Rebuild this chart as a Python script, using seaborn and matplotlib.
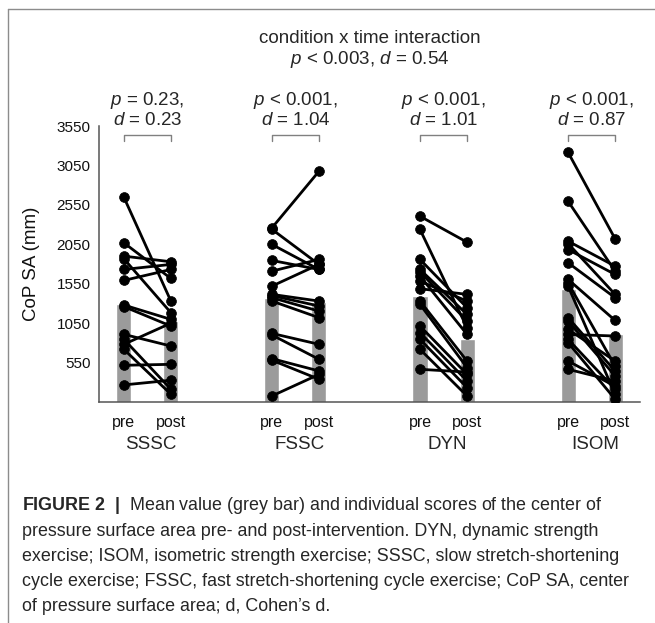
import pandas as pd
import numpy as np
from matplotlib import pyplot as plt
from matplotlib.lines import Line2D
import matplotlib.transforms as mtransforms
import seaborn as sns

# values (CoP SA in mm)
conditions = ['SSSC', 'FSSC', 'DYN', 'ISOM']
time_labels = ['pre', 'post']

sssc_pre = [2647, 2069, 1900, 1867, 1731, 1592, 1280, 1260, 908, 845, 782, 718, 516, 267]
sssc_post = [1330, 1617, 1829, 1183, 1795, 1731, 1098, 1013, 760, 212, 1050, 149, 528, 326]

fssc_pre = [2259, 2240, 2048, 1845, 1710, 1520, 1415, 1400, 1373, 1330, 920, 900, 600, 580, 127]
fssc_post = [2976, 1795, 1731, 1731, 1858, 1795, 1330, 1267, 1203, 1120, 782, 592, 444, 339, 400]

dyn_pre = [2406, 2238, 1858, 1731, 1700, 1647, 1583, 1487, 1330, 1288, 1013, 930, 845, 718, 465]
dyn_post = [2077, 993, 1246, 1161, 1077, 908, 1330, 1415, 570, 487, 402, 317, 233, 127, 430]

isom_pre = [3216, 2596, 2090, 2060, 1984, 1816, 1605, 1560, 1520, 1120, 1077, 972, 908, 845, 803, 570, 465]
isom_post = [2120, 1710, 1773, 1415, 1668, 1373, 1085, 507, 149, 444, 381, 570, 887, 212, 86, 250, 317]

# group means (grey bars)
mean_pre = [1288, 1364, 1394, 1478]
mean_post = [1077, 1322, 845, 909]

p_labels = ['$p$ = 0.23,', '$p$ < 0.001,', '$p$ < 0.001,', '$p$ < 0.001,']
d_labels = ['$d$ = 0.23', '$d$ = 1.04', '$d$ = 1.01', '$d$ = 0.87']

caption = [
    r'$\mathbf{FIGURE\ 2}$  $\mathbf{|}$  Mean value (grey bar) and individual scores of the center of',
    'pressure surface area pre- and post-intervention. DYN, dynamic strength',
    'exercise; ISOM, isometric strength exercise; SSSC, slow stretch-shortening',
    'cycle exercise; FSSC, fast stretch-shortening cycle exercise; CoP SA, center',
    'of pressure surface area; d, Cohen\u2019s d.',
]

sns.set_style('white')
plt.rcParams['font.family'] = ['Liberation Sans', 'DejaVu Sans']
plt.rcParams['mathtext.fontset'] = 'custom'
plt.rcParams['mathtext.rm'] = 'Liberation Sans'
plt.rcParams['mathtext.it'] = 'Liberation Sans:italic'
plt.rcParams['mathtext.bf'] = 'Liberation Sans:bold'

# x position of each pre / post column
group_gap = 3.15
pre_x = [group_gap * i for i in range(4)]
post_x = [group_gap * i + 1 for i in range(4)]

# long table of individual scores
rows = []
uid = 0
pairs = [(sssc_pre, sssc_post), (fssc_pre, fssc_post), (dyn_pre, dyn_post), (isom_pre, isom_post)]
for i, (pre, post) in enumerate(pairs):
    for a, b in zip(pre, post):
        rows.append({'cond': conditions[i], 'time': 'pre', 'uid': uid, 'x': pre_x[i], 'value': a})
        rows.append({'cond': conditions[i], 'time': 'post', 'uid': uid, 'x': post_x[i], 'value': b})
        uid += 1
df = pd.DataFrame(rows)

means = pd.DataFrame({'x': pre_x + post_x, 'mean': mean_pre + mean_post})

fig = plt.figure(figsize=(6.55, 6.23), dpi=100)
ax = fig.add_axes([0.1511, 0.3547, 0.826, 0.443])

sns.barplot(data=means, x='x', y='mean', native_scale=True, width=0.32,
            color='#9b9b9b', saturation=1, errorbar=None, ax=ax, zorder=1)
sns.lineplot(data=df, x='x', y='value', units='uid', estimator=None,
             color='black', lw=2.0, ax=ax, legend=False, zorder=3)
sns.scatterplot(data=df, x='x', y='value', color='black', s=50,
                edgecolor='black', linewidth=0.5, ax=ax, legend=False, zorder=4)

ax.set_ylim(50, 3550)
ax.set_xlim(-0.53, 10.98)
ax.set_yticks(np.arange(550, 3551, 500))
ax.tick_params(axis='y', length=0, pad=6, labelsize=11, labelcolor='#111111')
ax.set_xticks(pre_x + post_x)
ax.set_xticklabels(['pre'] * 4 + ['post'] * 4)
ax.tick_params(axis='x', length=0, pad=9, labelsize=11.5, labelcolor='#111111')
ax.set_xlabel('')
ax.set_ylabel('CoP SA (mm)', fontsize=13.5, color='#111111')
ax.yaxis.set_label_coords(-0.109, 0.5)

for side in ['top', 'right']:
    ax.spines[side].set_visible(False)
for side in ['left', 'bottom']:
    ax.spines[side].set_color('#555555')
    ax.spines[side].set_linewidth(1.1)

# brackets and per-condition statistics
for i in range(4):
    ax.plot([pre_x[i], pre_x[i], post_x[i], post_x[i]], [3355, 3431, 3431, 3355],
            color='#808080', lw=1, clip_on=False)
    cx = (pre_x[i] + post_x[i]) / 2
    ax.text(cx, 3871, p_labels[i], ha='center', va='center', fontsize=13.5, clip_on=False)
    ax.text(cx, 3618, d_labels[i], ha='center', va='center', fontsize=13.5, clip_on=False)

trans = mtransforms.blended_transform_factory(ax.transData, ax.transAxes)
for i in range(4):
    ax.text((pre_x[i] + post_x[i]) / 2 + 0.08, -0.155, conditions[i], transform=trans,
            ha='center', va='center', fontsize=13.5)

fig.text(0.565, 0.939, 'condition x time interaction', ha='center', va='center', fontsize=13.5)
fig.text(0.565, 0.904, '$p$ < 0.003, $d$ = 0.54', ha='center', va='center', fontsize=13.5)

# caption
for k, line in enumerate(caption):
    fig.text(0.0336, 1 - (506 + 25.2 * k) / 623, line, ha='left', va='center', fontsize=12.9)

# frame lines of the figure panel
fig.add_artist(Line2D([0.0122, 1], [0.9856, 0.9856], transform=fig.transFigure, color='#8c8c8c', lw=1))
fig.add_artist(Line2D([0.0122, 0.0122], [0, 0.9856], transform=fig.transFigure, color='#8c8c8c', lw=1))

fig.savefig('out.png', dpi=100)
